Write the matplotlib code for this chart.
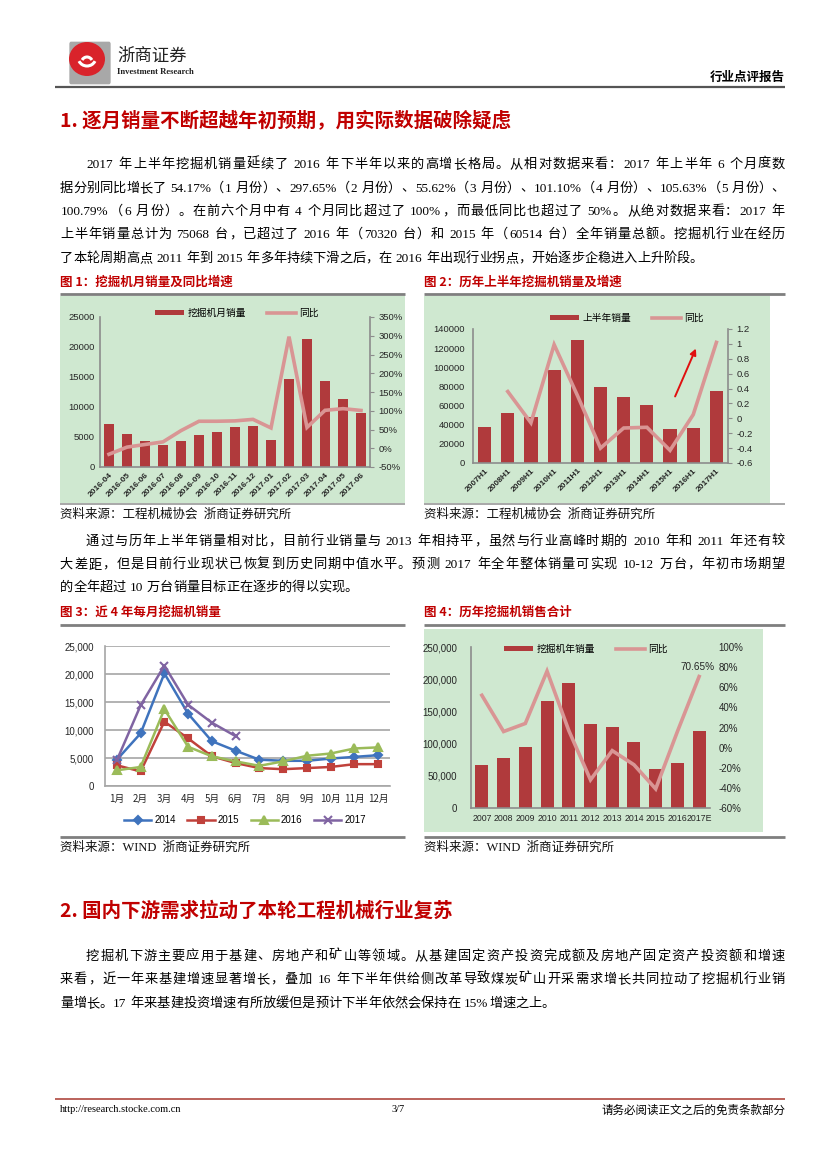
import re
import numpy as np
import matplotlib
matplotlib.use('Agg')
import matplotlib.pyplot as plt
from matplotlib.patches import Rectangle, FancyBboxPatch, Ellipse, FancyArrowPatch, Patch, Arc
from matplotlib.lines import Line2D
from matplotlib.ticker import FuncFormatter

CJK = 'Noto Sans CJK SC'
SERIF = ['Liberation Serif', CJK]
SANS = ['Liberation Sans', CJK]
plt.rcParams['font.family'] = SANS
plt.rcParams['axes.unicode_minus'] = False

# ---------------- data ----------------
month_labels = ['2016-04', '2016-05', '2016-06', '2016-07', '2016-08', '2016-09', '2016-10',
                '2016-11', '2016-12', '2017-01', '2017-02', '2017-03', '2017-04', '2017-05', '2017-06']
month_sales = [7200, 5500, 4400, 3600, 4300, 5400, 5800, 6700, 6900, 4500, 14600, 21400, 14400, 11300, 9000]
month_yoy = [-16, 3, 10, 17, 47, 72, 72, 73, 77, 54.17, 297.65, 55.62, 101.10, 105.63, 100.79]

h1_labels = ['2007H1', '2008H1', '2009H1', '2010H1', '2011H1', '2012H1', '2013H1', '2014H1',
             '2015H1', '2016H1', '2017H1']
h1_sales = [38000, 52000, 48500, 97000, 128000, 79000, 69000, 61000, 35500, 37000, 75068]
h1_yoy = [np.nan, 0.36, -0.06, 0.99, 0.31, -0.40, -0.13, -0.12, -0.43, 0.05, 1.02]

month_names = ['1月', '2月', '3月', '4月', '5月', '6月', '7月', '8月', '9月', '10月', '11月', '12月']
sales_2014 = [4700, 9400, 20100, 12900, 8000, 6300, 4700, 4500, 4500, 4900, 5200, 5500]
sales_2015 = [3700, 2600, 11500, 8500, 5300, 4100, 3200, 3000, 3200, 3400, 3900, 3900]
sales_2016 = [2800, 3400, 13700, 7000, 5300, 4400, 3600, 4400, 5400, 5800, 6700, 6900]
sales_2017 = [4600, 14400, 21500, 14500, 11300, 8900]
series_names = ['2014', '2015', '2016', '2017']

year_labels = ['2007', '2008', '2009', '2010', '2011', '2012', '2013', '2014', '2015', '2016', '2017E']
year_sales = [66500, 77500, 95000, 166000, 194000, 130000, 126000, 103000, 60514, 70320, 120000]
year_yoy = [52, 16, 24, 76, 17, -32, -3, -17, -41, 16, 70.65]

# ---------------- figure helpers ----------------
W, H = 827, 1169
fig = plt.figure(figsize=(W / 100, H / 100), dpi=100)
renderer = fig.canvas.get_renderer()


def fx(x):
    return x / W


def fy(y):
    return 1 - y / H


def rect(x0, y0, x1, y1):
    return [x0 / W, 1 - y1 / H, (x1 - x0) / W, (y1 - y0) / H]


RED = '#C00000'
GREEN_BG = '#CFE8D0'
BAR = '#B03A3C'
LINE = '#D99594'
AXIS = '#8C8C8C'
TICK = '#262626'

tok_re = re.compile(r'[A-Za-z0-9.%\-/]+| +|.')


def is_cjk(ch):
    return ord(ch) > 0x2E80 or ch in '，。、：；（）'


def para_line(x0, x1, yc, s, fs=9.5, justify=True):
    px = fs * 100 / 72
    base = yc + 0.36 * px
    items = []
    for t in tok_re.findall(s):
        if t.strip() == '':
            items.append((None, px * 0.25 * len(t)))
        elif len(t) == 1 and is_cjk(t):
            txt = fig.text(0, 0, t, fontsize=fs, family=SERIF, va='baseline', ha='center')
            items.append((txt, px))
        else:
            txt = fig.text(0, 0, t, fontsize=fs, family=SERIF, va='baseline', ha='center')
            w = txt.get_window_extent(renderer).width + 1
            items.append((txt, w))
    total = sum(w for _, w in items)
    n = len(items)
    gap = (x1 - x0 - total) / (n - 1) if (justify and n > 1) else 0
    x = x0
    for txt, w in items:
        if txt is not None:
            txt.set_position((fx(x + w / 2), fy(base)))
        x += w + gap


def hline(x0, x1, y, color, lw):
    fig.add_artist(Line2D([fx(x0), fx(x1)], [fy(y), fy(y)], transform=fig.transFigure,
                          color=color, lw=lw, solid_capstyle='butt'))


def bg(x0, y0, x1, y1, color):
    fig.add_artist(Rectangle((fx(x0), fy(y1)), (x1 - x0) / W, (y1 - y0) / H,
                             transform=fig.transFigure, facecolor=color, edgecolor='none', zorder=0))


def caption(x, y, s):
    fig.text(fx(x), fy(y), s, fontsize=9, family=CJK, fontweight='bold', color=RED,
             va='center', ha='left')


def source(x, y, s):
    fig.text(fx(x), fy(y), s, fontsize=9, family=SERIF, va='center', ha='left', color='#111111')


# ---------------- header ----------------
fig.add_artist(FancyBboxPatch((fx(71), fy(82)), 38 / W, 38 / H, boxstyle='round,pad=0.002',
                              transform=fig.transFigure, facecolor='#A8A8A8', edgecolor='none'))
fig.add_artist(Ellipse((fx(87), fy(59)), 36 / W, 34 / H, transform=fig.transFigure,
                       facecolor='#D9232B', edgecolor='none'))
fig.add_artist(Arc((fx(87), fy(57)), 18 / W, 18 / H, theta1=200, theta2=340,
                   transform=fig.transFigure, color='white', lw=2.2))
fig.add_artist(Arc((fx(87), fy(64)), 12 / W, 14 / H, theta1=30, theta2=150,
                   transform=fig.transFigure, color='white', lw=2.2))
fig.text(fx(117), fy(56), '浙商证券', fontsize=12.5, family=CJK, va='center', ha='left', color='#222222')
fig.text(fx(117), fy(72), 'Investment Research', fontsize=6.2, family=SERIF, va='center', ha='left',
         color='#222222', fontweight='bold')
fig.text(fx(785), fy(77), '行业点评报告', fontsize=9, family=CJK, fontweight='bold', va='center', ha='right')
hline(55, 785, 87, '#555555', 1.6)

# ---------------- section 1 ----------------
fig.text(fx(60), fy(121), '1. 逐月销量不断超越年初预期，用实际数据破除疑虑', fontsize=14, family=CJK,
         fontweight='bold', color=RED, va='center', ha='left')

p1 = ['2017 年上半年挖掘机销量延续了 2016 年下半年以来的高增长格局。从相对数据来看：2017 年上半年 6 个月度数',
      '据分别同比增长了 54.17%（1 月份）、297.65%（2 月份）、55.62%（3 月份）、101.10%（4 月份）、105.63%（5 月份）、',
      '100.79%（6 月份）。在前六个月中有 4 个月同比超过了 100%，而最低同比也超过了 50%。从绝对数据来看：2017 年',
      '上半年销量总计为 75068 台，已超过了 2016 年（70320 台）和 2015 年（60514 台）全年销量总额。挖掘机行业在经历',
      '了本轮周期高点 2011 年到 2015 年多年持续下滑之后，在 2016 年出现行业拐点，开始逐步企稳进入上升阶段。']
p1_y = [163, 187, 210, 233, 257]
for i, (s, y) in enumerate(zip(p1, p1_y)):
    para_line(86 if i == 0 else 60, 785, y, s, justify=(i < len(p1) - 1))

caption(60, 282, '图 1：挖掘机月销量及同比增速')
caption(424, 282, '图 2：历年上半年挖掘机销量及增速')
hline(60, 405, 293.5, '#7F7F7F', 2)
hline(424, 785, 293.5, '#7F7F7F', 2)

# ---------------- chart 1 ----------------
bg(60, 296, 405, 503, GREEN_BG)
ax1 = fig.add_axes(rect(100, 317, 370, 467))
ax1.set_facecolor('none')
x1 = np.arange(len(month_labels))
ax1.bar(x1, month_sales, width=0.6, color=BAR, zorder=2)
ax1.set_xlim(-0.5, len(x1) - 0.5)
ax1.set_ylim(0, 25000)
ax1.set_yticks(range(0, 25001, 5000))
ax1.set_xticks(x1)
ax1.set_xticklabels(month_labels, rotation=45, ha='right', rotation_mode='anchor', fontsize=6,
                    fontweight='bold', color=TICK)
ax1.tick_params(axis='y', labelsize=6.8, length=0, labelcolor=TICK, pad=4)
ax1.tick_params(axis='x', length=0, pad=3)
for s in ['top', 'right']:
    ax1.spines[s].set_visible(False)
for s in ['left', 'bottom']:
    ax1.spines[s].set_color(AXIS)
    ax1.spines[s].set_linewidth(1.2)
ax1r = ax1.twinx()
ax1r.set_facecolor('none')
ax1r.plot(x1, month_yoy, color=LINE, lw=2.6, solid_joinstyle='miter')
ax1r.set_ylim(-50, 350)
ax1r.set_yticks(range(-50, 351, 50))
ax1r.yaxis.set_major_formatter(FuncFormatter(lambda v, p: f'{v:.0f}%'))
ax1r.tick_params(axis='y', labelsize=6.8, length=3, color=AXIS, labelcolor=TICK, pad=3)
for s in ['top', 'left', 'bottom']:
    ax1r.spines[s].set_visible(False)
ax1r.spines['right'].set_color(AXIS)
ax1r.spines['right'].set_linewidth(1.2)
fig.legend([Patch(facecolor=BAR), Line2D([], [], color=LINE, lw=2.6)], ['挖掘机月销量', '同比'],
           loc='center', bbox_to_anchor=(fx(237), fy(313)), ncol=2, frameon=False,
           prop={'family': CJK, 'size': 7}, handlelength=3.0, handleheight=0.55,
           columnspacing=2.2, handletextpad=0.3)

# ---------------- chart 2 ----------------
bg(424, 296, 770, 503, GREEN_BG)
ax2 = fig.add_axes(rect(473, 329, 728, 463))
ax2.set_facecolor('none')
x2 = np.arange(len(h1_labels))
ax2.bar(x2, h1_sales, width=0.57, color=BAR, zorder=2)
ax2.set_xlim(-0.5, len(x2) - 0.5)
ax2.set_ylim(0, 140000)
ax2.set_yticks(range(0, 140001, 20000))
ax2.set_xticks(x2)
ax2.set_xticklabels(h1_labels, rotation=45, ha='right', rotation_mode='anchor', fontsize=6,
                    fontweight='bold', color=TICK)
ax2.tick_params(axis='y', labelsize=6.8, length=0, labelcolor=TICK, pad=6)
ax2.tick_params(axis='x', length=0, pad=3)
for s in ['top', 'right']:
    ax2.spines[s].set_visible(False)
for s in ['left', 'bottom']:
    ax2.spines[s].set_color(AXIS)
    ax2.spines[s].set_linewidth(1.2)
ax2r = ax2.twinx()
ax2r.set_facecolor('none')
ax2r.plot(x2, h1_yoy, color=LINE, lw=2.6, solid_joinstyle='miter')
ax2r.set_ylim(-0.6, 1.2)
ax2r.set_yticks(np.round(np.arange(-0.6, 1.21, 0.2), 1))


def gfmt(v, p):
    v = round(v, 1)
    if v == 0:
        return '0'
    return f'{v:g}'


ax2r.yaxis.set_major_formatter(FuncFormatter(gfmt))
ax2r.tick_params(axis='y', labelsize=6.8, length=3, color=AXIS, labelcolor=TICK, pad=3)
for s in ['top', 'left', 'bottom']:
    ax2r.spines[s].set_visible(False)
ax2r.spines['right'].set_color(AXIS)
ax2r.spines['right'].set_linewidth(1.2)
fig.legend([Patch(facecolor=BAR), Line2D([], [], color=LINE, lw=2.6)], ['上半年销量', '同比'],
           loc='center', bbox_to_anchor=(fx(627), fy(318)), ncol=2, frameon=False,
           prop={'family': CJK, 'size': 7}, handlelength=3.0, handleheight=0.55,
           columnspacing=2.2, handletextpad=0.3)
fig.add_artist(FancyArrowPatch((fx(674), fy(399)), (fx(697), fy(346)), transform=fig.transFigure,
                               arrowstyle='-|>', mutation_scale=9, color='#E01010', lw=1.4))

hline(60, 405, 504, '#9A9A9A', 1.2)
hline(424, 785, 504, '#9A9A9A', 1.2)
source(60, 515, '资料来源：工程机械协会  浙商证券研究所')
source(424, 515, '资料来源：工程机械协会  浙商证券研究所')

p2 = ['通过与历年上半年销量相对比，目前行业销量与 2013 年相持平，虽然与行业高峰时期的 2010 年和 2011 年还有较',
      '大差距，但是目前行业现状已恢复到历史同期中值水平。预测 2017 年全年整体销量可实现 10-12 万台，年初市场期望',
      '的全年超过 10 万台销量目标正在逐步的得以实现。']
p2_y = [540, 563, 586]
for i, (s, y) in enumerate(zip(p2, p2_y)):
    para_line(86 if i == 0 else 60, 785, y, s, justify=(i < len(p2) - 1))

caption(60, 612, '图 3：近 4 年每月挖掘机销量')
caption(424, 612, '图 4：历年挖掘机销售合计')
hline(60, 405, 624.5, '#7F7F7F', 2)
hline(424, 785, 624.5, '#7F7F7F', 2)

# ---------------- chart 3 ----------------
ax3 = fig.add_axes(rect(105, 646, 390, 786))
x3 = np.arange(len(month_names))
styles = [('#3F73BD', 'D', 4.2), ('#C0413B', 's', 5), ('#9BBB59', '^', 5.5), ('#8064A2', 'x', 6)]
all_series = [sales_2014, sales_2015, sales_2016, sales_2017]
for name, data, (c, m, ms) in zip(series_names, all_series, styles):
    ax3.plot(x3[:len(data)], data, color=c, marker=m, ms=ms, lw=1.8, mew=1.5, label=name, zorder=3)
ax3.set_xlim(-0.5, len(x3) - 0.5)
ax3.set_ylim(0, 25000)
ax3.set_yticks(range(0, 25001, 5000))
ax3.yaxis.set_major_formatter(FuncFormatter(lambda v, p: f'{int(v):,}'))
ax3.set_xticks(x3)
ax3.set_xticklabels(month_names, family=CJK, fontsize=7, color=TICK)
ax3.tick_params(axis='y', labelsize=7, length=0, labelcolor=TICK, pad=8)
ax3.tick_params(axis='x', length=0, pad=6)
ax3.grid(axis='y', color='#A6A6A6', lw=1.2)
ax3.set_axisbelow(True)
for s in ['top', 'right']:
    ax3.spines[s].set_visible(False)
for s in ['left', 'bottom']:
    ax3.spines[s].set_color('#A6A6A6')
    ax3.spines[s].set_linewidth(1.2)
h3, l3 = ax3.get_legend_handles_labels()
fig.legend(h3, l3, loc='center', bbox_to_anchor=(fx(245), fy(820)), ncol=4, frameon=False,
           prop={'family': SANS, 'size': 7}, handlelength=2.8, columnspacing=1.2, handletextpad=0.3)

# ---------------- chart 4 ----------------
bg(424, 629, 763, 832, GREEN_BG)
ax4 = fig.add_axes(rect(471, 647, 710, 808))
ax4.set_facecolor('none')
x4 = np.arange(len(year_labels))
ax4.bar(x4, year_sales, width=0.6, color=BAR, zorder=2)
ax4.set_xlim(-0.5, len(x4) - 0.5)
ax4.set_ylim(0, 250000)
ax4.set_yticks(range(0, 250001, 50000))
ax4.yaxis.set_major_formatter(FuncFormatter(lambda v, p: f'{int(v):,}'))
ax4.set_xticks(x4)
ax4.set_xticklabels(year_labels, fontsize=6.3, color=TICK)
ax4.tick_params(axis='y', labelsize=7, length=0, labelcolor=TICK, pad=10)
ax4.tick_params(axis='x', length=0, pad=4)
for s in ['top', 'right']:
    ax4.spines[s].set_visible(False)
for s in ['left', 'bottom']:
    ax4.spines[s].set_color(AXIS)
    ax4.spines[s].set_linewidth(1.2)
ax4r = ax4.twinx()
ax4r.set_facecolor('none')
ax4r.plot(x4, year_yoy, color=LINE, lw=2.6, solid_joinstyle='miter')
ax4r.set_ylim(-60, 100)
ax4r.set_yticks(range(-60, 101, 20))
ax4r.yaxis.set_major_formatter(FuncFormatter(lambda v, p: f'{v:.0f}%'))
ax4r.tick_params(axis='y', labelsize=7, length=0, labelcolor=TICK, pad=6)
for s in ['top', 'left', 'bottom', 'right']:
    ax4r.spines[s].set_visible(False)
ax4r.annotate(f'{year_yoy[-1]:.2f}%', xy=(x4[-1], year_yoy[-1]), xytext=(-1, 3),
              textcoords='offset points', ha='center', va='bottom', fontsize=7.2, color=TICK)
fig.legend([Patch(facecolor=BAR), Line2D([], [], color=LINE, lw=2.6)], ['挖掘机年销量', '同比'],
           loc='center', bbox_to_anchor=(fx(586), fy(649)), ncol=2, frameon=False,
           prop={'family': CJK, 'size': 7}, handlelength=3.0, handleheight=0.55,
           columnspacing=2.2, handletextpad=0.3)

hline(60, 405, 836.5, '#7F7F7F', 2)
hline(424, 785, 836.5, '#7F7F7F', 2)
source(60, 848, '资料来源：WIND  浙商证券研究所')
source(424, 848, '资料来源：WIND  浙商证券研究所')

# ---------------- section 2 ----------------
fig.text(fx(60), fy(911), '2. 国内下游需求拉动了本轮工程机械行业复苏', fontsize=14, family=CJK,
         fontweight='bold', color=RED, va='center', ha='left')
p3 = ['挖掘机下游主要应用于基建、房地产和矿山等领域。从基建固定资产投资完成额及房地产固定资产投资额和增速',
      '来看，近一年来基建增速显著增长，叠加 16 年下半年供给侧改革导致煤炭矿山开采需求增长共同拉动了挖掘机行业销',
      '量增长。17 年来基建投资增速有所放缓但是预计下半年依然会保持在 15%增速之上。']
p3_y = [955, 978, 1002]
for i, (s, y) in enumerate(zip(p3, p3_y)):
    para_line(86 if i == 0 else 60, 785, y, s, justify=(i < len(p3) - 1))

# ---------------- footer ----------------
hline(55, 785, 1099, '#B5564E', 1.3)
fig.text(fx(60), fy(1110), 'http://research.stocke.com.cn', fontsize=7.5, family=SERIF, va='center', ha='left')
fig.text(fx(398), fy(1110), '3/7', fontsize=7.5, family=SERIF, va='center', ha='center')
fig.text(fx(785), fy(1110), '请务必阅读正文之后的免责条款部分', fontsize=8.3, family=CJK, va='center', ha='right')

fig.savefig('out.png', dpi=100)
